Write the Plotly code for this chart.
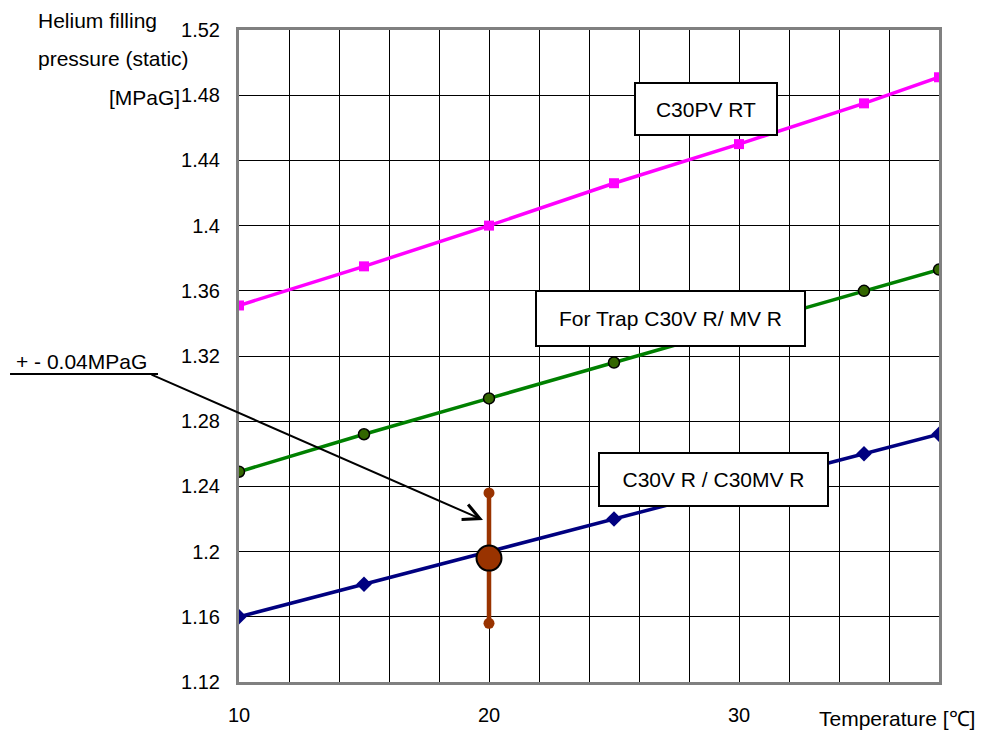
import plotly.graph_objects as go

temps = [10, 15, 20, 25, 30, 35, 38]
c30pv_rt = [1.351, 1.375, 1.400, 1.426, 1.450, 1.475, 1.491]
trap_c30v = [1.249, 1.272, 1.294, 1.316, 1.338, 1.360, 1.373]
c30v_r = [1.160, 1.180, 1.200, 1.220, 1.240, 1.260, 1.272]

ref_temp = 20
ref_center = 1.196
ref_tol = 0.04

y_ticks = [1.12, 1.16, 1.20, 1.24, 1.28, 1.32, 1.36, 1.40, 1.44, 1.48, 1.52]
y_ticktext = ["1.12", "1.16", "1.2", "1.24", "1.28", "1.32", "1.36", "1.4", "1.44", "1.48", "1.52"]
x_ticks = [10, 20, 30]
x_ticktext = ["10", "20", "30"]

FONT = "Liberation Sans, Arial, sans-serif"
TXT = 21

fig = go.Figure()

fig.add_trace(go.Scatter(x=temps, y=c30pv_rt, mode="lines+markers",
                         line=dict(color="#FF00FF", width=3.5),
                         marker=dict(symbol="square", size=10, color="#FF00FF"),
                         name="C30PV RT"))
fig.add_trace(go.Scatter(x=temps, y=trap_c30v, mode="lines+markers",
                         line=dict(color="#008000", width=3.5),
                         marker=dict(symbol="circle", size=11, color="#336600",
                                     line=dict(color="black", width=1.5)),
                         name="For Trap C30V R/ MV R"))
fig.add_trace(go.Scatter(x=temps, y=c30v_r, mode="lines+markers",
                         line=dict(color="#000080", width=3.5),
                         marker=dict(symbol="diamond", size=12, color="#000080"),
                         name="C30V R / C30MV R"))

# tolerance bar
fig.add_trace(go.Scatter(x=[ref_temp, ref_temp], y=[ref_center - ref_tol, ref_center + ref_tol],
                         mode="lines+markers",
                         line=dict(color="#993300", width=4.5),
                         marker=dict(symbol="circle", size=11, color="#993300"),
                         name="tol"))
fig.add_trace(go.Scatter(x=[ref_temp], y=[ref_center], mode="markers",
                         marker=dict(symbol="circle", size=25, color="#993300",
                                     line=dict(color="black", width=2)),
                         name="ref"))

grid_col = "#000000"
fig.update_xaxes(range=[10, 38], tickvals=x_ticks, ticktext=x_ticktext,
                 showgrid=True, gridcolor=grid_col, gridwidth=1,
                 minor=dict(dtick=2, tick0=10, showgrid=True, gridcolor=grid_col, gridwidth=1),
                 showline=True, linecolor="#808080", linewidth=3, mirror=True,
                 ticks="", zeroline=False, ticklabelstandoff=13,
                 tickfont=dict(family=FONT, size=20, color="black"))
fig.update_yaxes(range=[1.12, 1.52], tickvals=y_ticks, ticktext=y_ticktext,
                 showgrid=True, gridcolor=grid_col, gridwidth=1,
                 showline=True, linecolor="#808080", linewidth=3, mirror=True,
                 ticks="", zeroline=False, ticklabelstandoff=12,
                 tickfont=dict(family=FONT, size=20, color="black"))

def box_note(text, x, y, w, h):
    fig.add_annotation(x=x, y=y, xref="x", yref="y", text=text, showarrow=False,
                       font=dict(family=FONT, size=TXT, color="black"),
                       bgcolor="white", bordercolor="black", borderwidth=2,
                       width=w, height=h, borderpad=0, align="center", valign="middle")

box_note("C30PV RT", 28.68, 1.4715, 140, 50)
box_note("For Trap C30V R/ MV R", 27.26, 1.3429, 267, 53)
box_note("C30V R / C30MV R", 28.98, 1.2445, 227, 51)

# tolerance label with arrow
fig.add_annotation(x=19.76, y=1.2194, xref="x", yref="y", ax=-333, ay=-146,
                   axref="pixel", ayref="pixel", text="", showarrow=True,
                   arrowhead=5, arrowsize=1.6, arrowwidth=2, arrowcolor="black")
fig.add_annotation(x=-0.3214, y=0.4923, xref="paper", yref="paper", xanchor="left",
                   yanchor="middle", text="+ - 0.04MPaG", showarrow=False,
                   font=dict(family=FONT, size=TXT, color="black"))
fig.add_shape(type="line", xref="paper", yref="paper", x0=-0.3271, x1=-0.1157,
              y0=0.4724, y1=0.4724, line=dict(color="black", width=2))

# axis titles
for txt, x, y, anchor in [("Helium filling", -0.29, 1.0153, "left"),
                          ("pressure (static)", -0.29, 0.957, "left"),
                          ("[MPaG]", -0.0814, 0.897, "right")]:
    fig.add_annotation(x=x, y=y, xref="paper", yref="paper", xanchor=anchor, yanchor="middle",
                       text=txt, showarrow=False, font=dict(family=FONT, size=TXT, color="black"))
fig.add_annotation(x=1.054, y=-0.0567, xref="paper", yref="paper", xanchor="right",
                   yanchor="middle", text="Temperature [℃]", showarrow=False,
                   font=dict(family=FONT, size=TXT, color="black"))

fig.update_layout(width=981, height=731, showlegend=False,
                  margin=dict(l=239, r=42, t=30, b=49, autoexpand=False),
                  paper_bgcolor="white", plot_bgcolor="white")

# remove the default 8px body margin so the figure fills the window exactly
fig.write_html("out.html", config={"displayModeBar": False},
               post_script="document.body.style.margin='0';document.body.style.overflow='hidden';")
